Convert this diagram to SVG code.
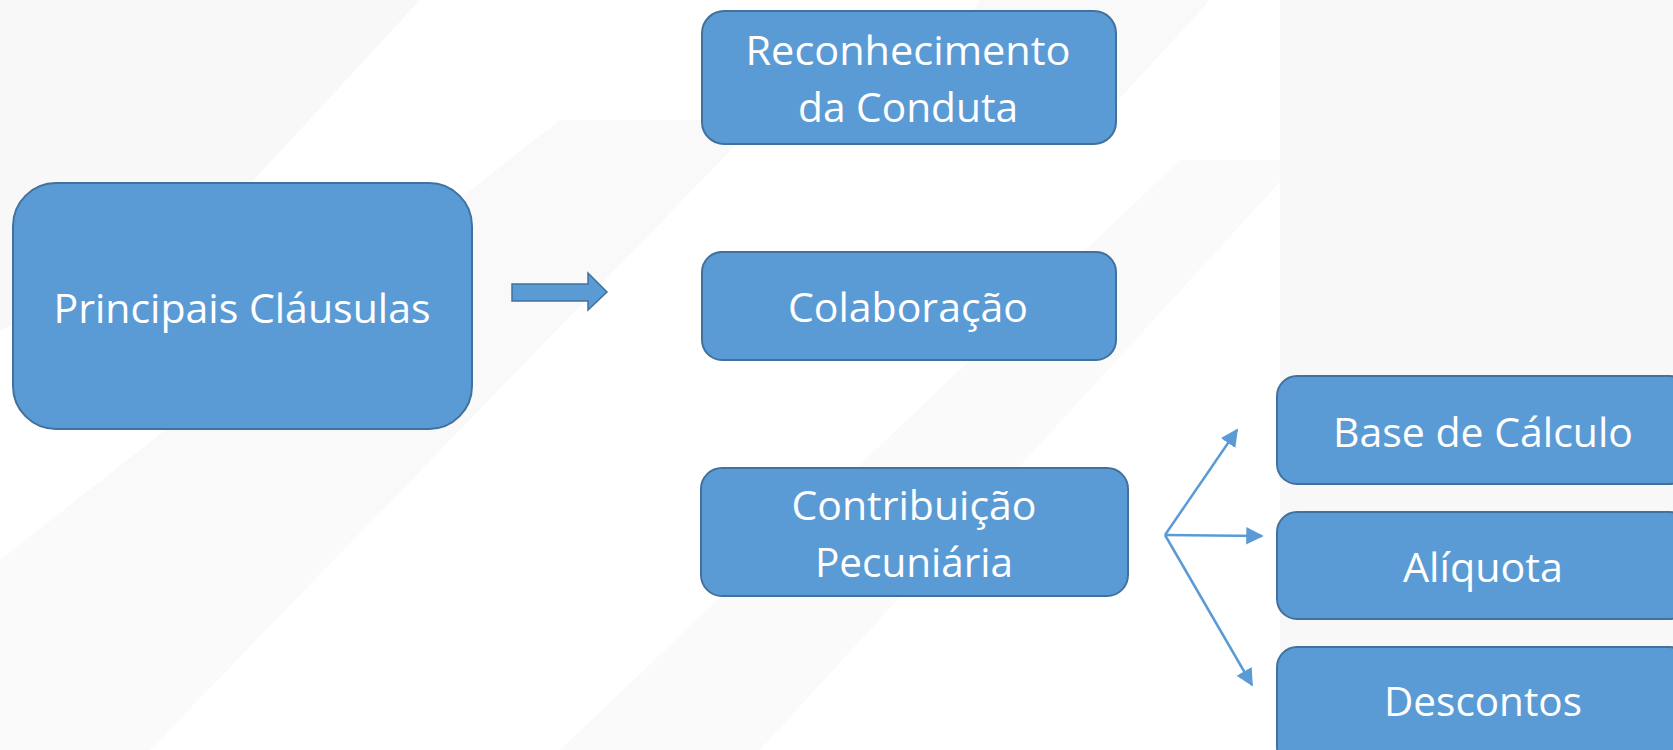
<svg xmlns="http://www.w3.org/2000/svg" width="1673" height="750" viewBox="0 0 1673 750">
<style>
.box{fill:#5B9BD5;stroke:#41719C;stroke-width:2}
.lbl{fill:#FFFFFF;font-family:"Open Sans","Noto Sans",sans-serif;font-size:41px;text-anchor:middle}
.con{stroke:#5B9BD5;stroke-width:2.5;fill:none}
</style>
<defs>
<marker id="ah" viewBox="0 0 10 10" refX="9" refY="5" markerWidth="7" markerHeight="7" markerUnits="strokeWidth" orient="auto">
<path d="M0,0 L10,5 L0,10 Z" fill="#5B9BD5"/>
</marker>
</defs>
<rect x="0" y="0" width="1673" height="750" fill="#FFFFFF"/>
<g id="background" opacity="0.45">
<polygon points="0,0 420,0 180,260 0,330" fill="#F1F1F1"/>
<polygon points="0,560 560,120 760,120 150,750 0,750" fill="#F3F3F3"/>
<polygon points="560,750 1180,160 1300,160 760,750" fill="#F4F4F4"/>
<polygon points="1280,0 1673,0 1673,750 1280,750" fill="#F0F0F0"/>
<polygon points="980,0 1210,0 1100,120 900,120" fill="#F2F2F2"/>
</g>
<g id="connectors">
<path d="M512,284 H588 V273 L607,292 L588,310 V301 H512 Z" fill="#5B9BD5" stroke="#41719C" stroke-width="1.5"/>
<line class="con" x1="1165" y1="535" x2="1237" y2="430" marker-end="url(#ah)"/>
<line class="con" x1="1165" y1="535" x2="1262" y2="536" marker-end="url(#ah)"/>
<line class="con" x1="1165" y1="535" x2="1252" y2="685" marker-end="url(#ah)"/>
</g>
<g id="node-principais">
<rect class="box" x="13" y="183" width="459" height="246" rx="43"/>
<text class="lbl" x="242" y="323" textLength="377" lengthAdjust="spacingAndGlyphs">Principais Cláusulas</text>
</g>
<g id="node-reconhecimento">
<rect class="box" x="702" y="11" width="414" height="133" rx="22"/>
<text class="lbl" x="908" y="65" textLength="325" lengthAdjust="spacingAndGlyphs">Reconhecimento</text>
<text class="lbl" x="908" y="122" textLength="220" lengthAdjust="spacingAndGlyphs">da Conduta</text>
</g>
<g id="node-colaboracao">
<rect class="box" x="702" y="252" width="414" height="108" rx="20"/>
<text class="lbl" x="908" y="322" textLength="240" lengthAdjust="spacingAndGlyphs">Colaboração</text>
</g>
<g id="node-contribuicao">
<rect class="box" x="701" y="468" width="427" height="128" rx="21"/>
<text class="lbl" x="914" y="520" textLength="245" lengthAdjust="spacingAndGlyphs">Contribuição</text>
<text class="lbl" x="914" y="577" textLength="198" lengthAdjust="spacingAndGlyphs">Pecuniária</text>
</g>
<g id="node-base">
<rect class="box" x="1277" y="376" width="412" height="108" rx="20"/>
<text class="lbl" x="1483" y="447" textLength="300" lengthAdjust="spacingAndGlyphs">Base de Cálculo</text>
</g>
<g id="node-aliquota">
<rect class="box" x="1277" y="512" width="412" height="107" rx="20"/>
<text class="lbl" x="1483" y="582" textLength="160" lengthAdjust="spacingAndGlyphs">Alíquota</text>
</g>
<g id="node-descontos">
<rect class="box" x="1277" y="647" width="412" height="120" rx="20"/>
<text class="lbl" x="1483" y="716" textLength="198" lengthAdjust="spacingAndGlyphs">Descontos</text>
</g>
</svg>
